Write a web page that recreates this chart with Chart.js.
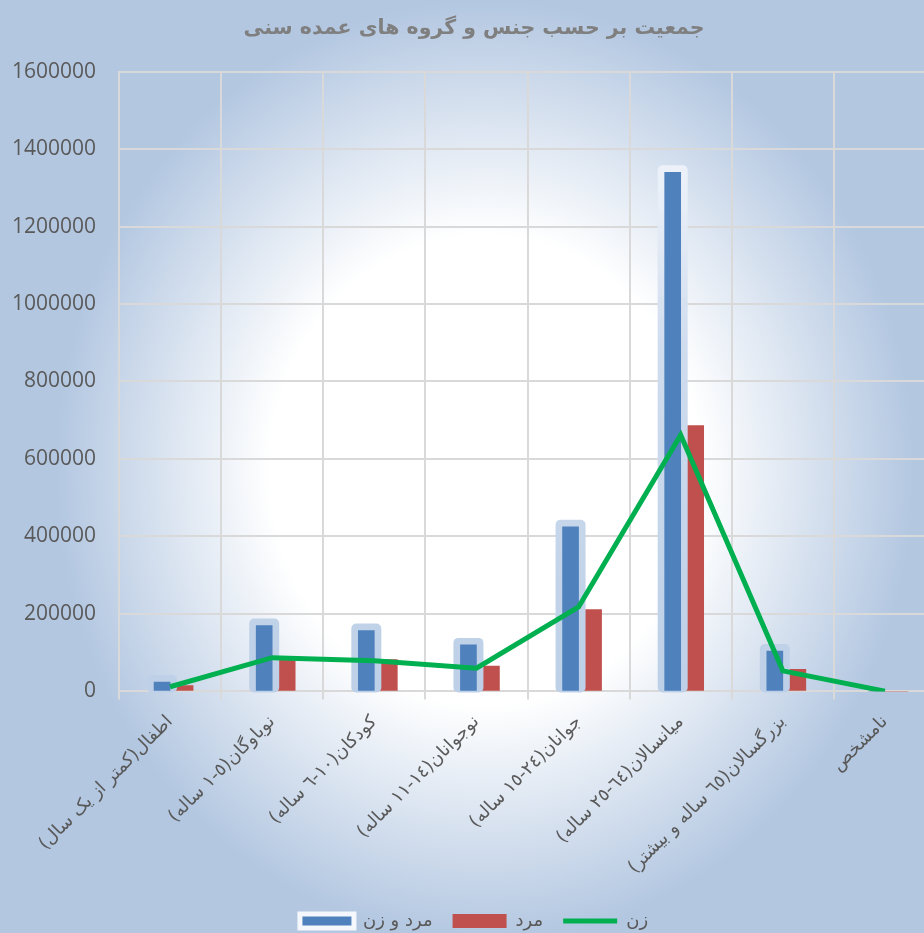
<!DOCTYPE html>
<html lang="fa">
<head>
<meta charset="utf-8">
<title>جمعیت بر حسب جنس و گروه های عمده سنی</title>
<script src="https://cdn.jsdelivr.net/npm/chart.js@4.4.1/dist/chart.umd.min.js"></script>
<style>
    html, body {
        margin: 0;
        padding: 0;
        width: 924px;
        height: 933px;
        overflow: hidden;
    }
    body {
        background: radial-gradient(ellipse 430px 470px at 485px 470px, #ffffff 0%, #ffffff 50%, #b3c7e1 100%);
    }
    #chart {
        display: block;
        direction: rtl;
    }
</style>
</head>
<body>
<canvas id="chart" width="940" height="940"></canvas>

<script>
// categories (age groups)
const categories = [
    "اطفال(کمتر از یک سال)",
    "نوباوگان(٥-١ ساله)",
    "کودکان(١٠-٦ ساله)",
    "نوجوانان(١٤-١١ ساله)",
    "جوانان(٢٤-١٥ ساله)",
    "میانسالان(٦٤-٢٥ ساله)",
    "بزرگسالان(٦٥ ساله و بیشتر)",
    "نامشخص"
];

// series
const totalValues = [24000, 170000, 157000, 120000, 425000, 1340000, 104000, 0];
const maleValues = [15000, 80000, 82000, 65000, 211000, 686000, 57000, 0];
const femaleValues = [12000, 87000, 79000, 60000, 218000, 662000, 53000, 500];

const seriesNames = ["مرد و زن", "مرد", "زن"];
const yTicks = [0, 200000, 400000, 600000, 800000, 1000000, 1200000, 1400000, 1600000];

const textColor = "#595959";
const gridColor = "#d9d9d9";

// light halo drawn behind the blue bars, sized from the bar elements
const barGlow = {
    id: "barGlow",
    beforeDatasetDraw(chart, args) {
        if (args.index !== 0) return;
        const ctx = chart.ctx;
        const area = chart.chartArea;
        const g = ctx.createLinearGradient(0, area.top, 0, area.bottom);
        g.addColorStop(0, "rgba(252, 253, 255, 0.95)");
        g.addColorStop(0.45, "#cfdcee");
        g.addColorStop(1, "#bdd0e7");
        ctx.save();
        ctx.fillStyle = g;
        args.meta.data.forEach(bar => {
            const p = bar.getProps(["x", "y", "base", "width"], true);
            if (p.base - p.y < 0.5) return;
            ctx.beginPath();
            ctx.roundRect(p.x - p.width / 2 - 7, p.y - 7, p.width + 14, p.base - p.y + 9, 5);
            ctx.fill();
        });
        ctx.restore();
    }
};

new Chart(document.getElementById("chart"), {
    type: "bar",
    data: {
        labels: categories,
        datasets: [
            {
                label: seriesNames[0],
                data: totalValues,
                backgroundColor: "#4f81bd",
                barThickness: 16,
                order: 1
            },
            {
                label: seriesNames[1],
                data: maleValues,
                backgroundColor: "#c0504d",
                barThickness: 23,
                order: 2
            },
            {
                type: "line",
                label: seriesNames[2],
                data: femaleValues,
                borderColor: "#00b050",
                backgroundColor: "#00b050",
                borderWidth: 5,
                pointRadius: 0,
                tension: 0,
                order: 0
            }
        ]
    },
    options: {
        responsive: false,
        animation: false,
        layout: {
            padding: { left: 12, right: 4, top: 0, bottom: 0 }
        },
        plugins: {
            title: {
                display: true,
                text: "جمعیت بر حسب جنس و گروه های عمده سنی",
                color: "#7f7f7f",
                font: { family: "DejaVu Sans", size: 20.5, weight: "bold" },
                padding: { top: 16, bottom: 31 }
            },
            legend: {
                position: "bottom",
                labels: {
                    color: textColor,
                    font: { family: "DejaVu Sans", size: 18 },
                    usePointStyle: true,
                    pointStyleWidth: 54,
                    boxHeight: 14,
                    padding: 20,
                    sort: (a, b) => a.datasetIndex - b.datasetIndex,
                    generateLabels(chart) {
                        const items = Chart.defaults.plugins.legend.labels.generateLabels(chart);
                        items.forEach(item => {
                            if (item.datasetIndex === 0) {
                                item.pointStyle = "rect";
                                item.fillStyle = "#4f81bd";
                                item.strokeStyle = "#f4f7fb";
                                item.lineWidth = 5;
                            } else if (item.datasetIndex === 1) {
                                item.pointStyle = "rect";
                                item.fillStyle = "#c0504d";
                                item.lineWidth = 0;
                            } else {
                                item.pointStyle = "line";
                                item.strokeStyle = "#00b050";
                                item.lineWidth = 5;
                            }
                        });
                        return items;
                    }
                }
            },
            tooltip: { enabled: false }
        },
        scales: {
            x: {
                grid: {
                    color: gridColor,
                    lineWidth: 2,
                    tickLength: 8,
                    offset: true
                },
                border: { color: gridColor, width: 2 },
                ticks: {
                    color: textColor,
                    font: { family: "DejaVu Sans", size: 18 },
                    minRotation: 45,
                    maxRotation: 45,
                    autoSkip: false,
                    padding: 12
                },
                afterFit(scale) {
                    scale.paddingLeft = 0;
                    scale.paddingRight = 0;
                    scale.height += 2;
                }
            },
            y: {
                min: yTicks[0],
                max: yTicks[yTicks.length - 1],
                afterBuildTicks(scale) {
                    scale.ticks = yTicks.map(v => ({ value: v }));
                },
                grid: {
                    color: gridColor,
                    lineWidth: 2,
                    drawTicks: false
                },
                border: { color: gridColor, width: 2 },
                ticks: {
                    color: textColor,
                    font: { family: "Open Sans", size: 21 },
                    padding: 23,
                    callback: value => String(value)
                },
                afterFit(scale) {
                    scale.width = 107;
                }
            }
        }
    },
    plugins: [barGlow]
});
</script>
</body>
</html>
